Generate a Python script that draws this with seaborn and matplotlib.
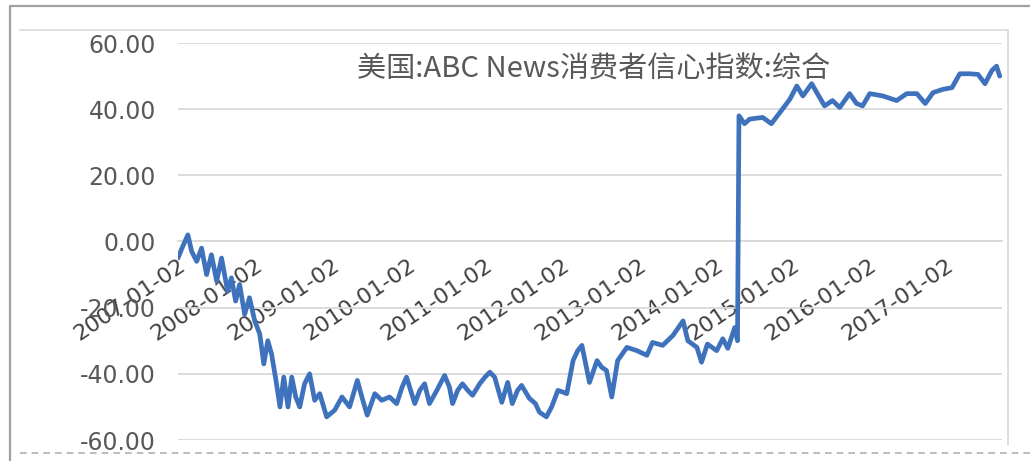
import matplotlib
matplotlib.use("Agg")
import matplotlib.pyplot as plt
import seaborn as sns
import pandas as pd
from matplotlib.lines import Line2D

# ---- data ----
dates = [
    "2007-01-02", "2007-01-21", "2007-02-18", "2007-03-08", "2007-04-01", "2007-04-24",
    "2007-05-18", "2007-06-10", "2007-07-05", "2007-07-28", "2007-08-26", "2007-09-13",
    "2007-10-03", "2007-10-22", "2007-11-15", "2007-12-08", "2008-01-02", "2008-01-26",
    "2008-02-14", "2008-03-04", "2008-03-22", "2008-04-12", "2008-05-01", "2008-05-19",
    "2008-06-08", "2008-06-26", "2008-07-15", "2008-08-03", "2008-08-26", "2008-09-19",
    "2008-10-13", "2008-11-06", "2008-12-09", "2009-01-16", "2009-02-20", "2009-03-28",
    "2009-05-04", "2009-05-30", "2009-06-20", "2009-07-26", "2009-08-28", "2009-10-04",
    "2009-11-07", "2009-12-03", "2009-12-24", "2010-02-01", "2010-02-25", "2010-03-20",
    "2010-04-12", "2010-05-17", "2010-06-23", "2010-07-16", "2010-07-31", "2010-08-24",
    "2010-09-16", "2010-10-11", "2010-11-03", "2010-12-07", "2011-01-01", "2011-01-24",
    "2011-02-16", "2011-03-22", "2011-04-19", "2011-05-11", "2011-06-05", "2011-06-24",
    "2011-07-31", "2011-08-29", "2011-09-17", "2011-10-20", "2011-11-14", "2011-12-14",
    "2012-01-06", "2012-01-25", "2012-02-24", "2012-03-17", "2012-04-06", "2012-05-12",
    "2012-06-17", "2012-07-09", "2012-08-01", "2012-08-26", "2012-09-23", "2012-11-06",
    "2012-12-24", "2013-02-09", "2013-03-08", "2013-04-25", "2013-06-13", "2013-07-31",
    "2013-08-23", "2013-10-05", "2013-10-27", "2013-11-24", "2014-01-07", "2014-02-05",
    "2014-03-01", "2014-04-03", "2014-04-16", "2014-04-23", "2014-05-19", "2014-06-13",
    "2014-08-14", "2014-09-24", "2014-11-11", "2014-12-21", "2015-01-23", "2015-02-21",
    "2015-04-04", "2015-05-01", "2015-06-04", "2015-07-12", "2015-08-15", "2015-10-01",
    "2015-11-03", "2015-12-02", "2016-01-05", "2016-03-07", "2016-05-12", "2016-06-29",
    "2016-08-16", "2016-09-25", "2016-11-01", "2016-12-18", "2017-01-30", "2017-03-08",
    "2017-04-24", "2017-06-03", "2017-07-06", "2017-08-08", "2017-08-30", "2017-09-14",
]
values = [
    -5, -2, 2, -3, -6, -2,
    -10, -4, -12, -5, -15, -11,
    -18, -13, -22, -17, -24, -28,
    -37, -30, -34, -42, -50, -41,
    -50, -41, -47, -50, -43, -40,
    -48, -46, -53, -51, -47, -50,
    -42, -48, -52.5, -46, -48, -47,
    -49, -44, -41, -49, -45, -43,
    -49, -45, -40.5, -44, -49, -45,
    -43, -45, -46.5, -43, -41, -39.5,
    -41, -48.6, -42.6, -49, -45, -43.5,
    -47.4, -49, -51.6, -53, -50, -45,
    -45.5, -46, -36, -33, -31.4, -42.6,
    -36, -38, -39, -47, -36, -32,
    -33, -34.4, -30.5, -31.4, -28.4, -24,
    -30, -32, -36.5, -31, -33, -29.4,
    -32.3, -26, -30, 38, 35.6, 37,
    37.5, 35.6, 39.6, 43, 47, 44,
    47.7, 44.7, 41, 42.6, 40.5, 44.7,
    41.7, 41, 44.7, 44, 42.6, 44.7,
    44.7, 41.7, 45, 46, 46.5, 50.7,
    50.7, 50.5, 47.7, 51.7, 53, 50,
]
tick_dates = ["2007-01-02", "2008-01-02", "2009-01-02", "2010-01-02", "2011-01-02",
              "2012-01-02", "2013-01-02", "2014-01-02", "2015-01-02", "2016-01-02",
              "2017-01-02"]
y_ticks = [-60, -40, -20, 0, 20, 40, 60]
title = "美国:ABC News消费者信心指数:综合"

df = pd.DataFrame({"date": pd.to_datetime(dates), "value": values})

sns.set_theme(style="white")
plt.rcParams["font.family"] = ["DejaVu Sans", "Noto Sans CJK SC"]

W, H = 1030, 461
fig = plt.figure(figsize=(W / 100, H / 100), dpi=100)
ax = fig.add_axes([178 / W, 1 - 440 / H, 824 / W, 397 / H])

sns.lineplot(data=df, x="date", y="value", ax=ax, color="#3F72BC", linewidth=3.4, zorder=5)

# axis line crosses at 0 (set before the ticks, since it resets them)
for s in ["top", "right", "left"]:
    ax.spines[s].set_visible(False)
ax.spines["bottom"].set_position(("data", 0))
ax.spines["bottom"].set_color("#d9d9d9")
ax.spines["bottom"].set_linewidth(1.3)

ax.set_ylim(-60, 60)
ax.set_yticks(y_ticks)
ax.set_yticklabels([f"{v:.2f}" for v in y_ticks])
ax.set_xlim(pd.Timestamp("2007-01-02"), pd.Timestamp("2017-09-25"))
ax.set_xticks(pd.to_datetime(tick_dates))
ax.set_xticklabels(tick_dates)
ax.set_xlabel("")
ax.set_ylabel("")

ax.grid(axis="y", color="#d9d9d9", linewidth=1.3)
ax.grid(axis="x", visible=False)
ax.set_axisbelow(True)

ax.tick_params(length=0)
ax.tick_params(axis="y", pad=16, labelsize=17, labelcolor="#595959")
ax.tick_params(axis="x", pad=10, labelsize=16, labelcolor="#404040")
for lab in ax.get_xticklabels():
    lab.set_rotation(34)
    lab.set_ha("right")
    lab.set_va("top")
    lab.set_rotation_mode("anchor")

ax.text(0.504, 0.932, title, transform=ax.transAxes, ha="center", va="center",
        fontsize=21, color="#595959", family=["Noto Sans CJK SC", "DejaVu Sans"])

# frame decorations of the original screenshot
tf = fig.transFigure
fig.add_artist(Line2D([10 / W, 1], [1 - 6 / H] * 2, color="#a0a0a0", lw=1.6, transform=tf))
fig.add_artist(Line2D([10 / W, 10 / W], [1 - 6 / H, 0], color="#a0a0a0", lw=1.6, transform=tf))
fig.add_artist(Line2D([20 / W, 1008 / W], [1 - 30 / H] * 2, color="#d9d9d9", lw=1.2, transform=tf))
fig.add_artist(Line2D([1008 / W, 1008 / W], [1 - 30 / H, 1 - 445 / H], color="#d9d9d9", lw=1.2, transform=tf))
fig.add_artist(Line2D([20 / W, 1], [1 - 453 / H] * 2, color="#b0b0b0", lw=1.2,
                      linestyle=(0, (4, 3)), transform=tf))

fig.savefig("out.png", dpi=100)
